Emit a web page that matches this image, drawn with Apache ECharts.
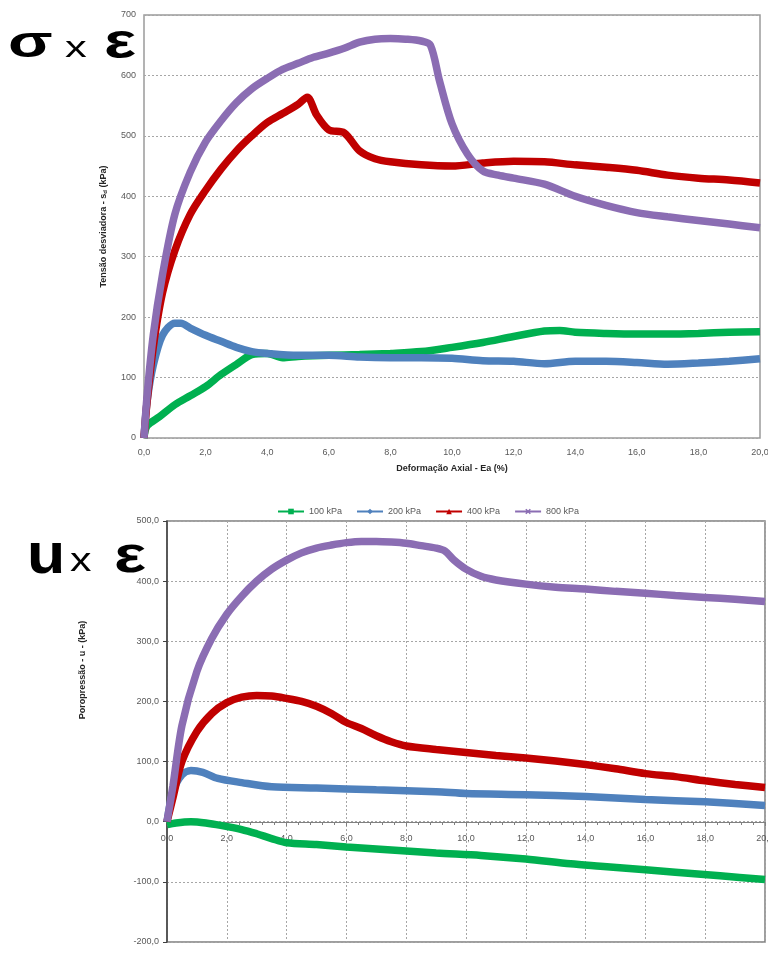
<!DOCTYPE html>
<html><head><meta charset="utf-8">
<script src="https://cdn.jsdelivr.net/npm/echarts@6/dist/echarts.min.js"></script>
<style>html,body{margin:0;padding:0;background:#fff}#c{width:768px;height:953px}</style>
</head><body><div id="c"></div>
<script>
// ---- data: top chart (deviator stress vs axial strain) ----
const seriesNames = ['100 kPa', '200 kPa', '400 kPa', '800 kPa'];

const epsS100 = [0,0.1,0.5,1.0,1.5,2.0,2.5,3.0,3.5,4.0,4.5,5,6,7,8,9,10,11,12,13,13.5,14,15,16,17,18,19,20];
const sig100  = [0,20,35,55,70,85,105,122,138,140,133,135,137,138,140,143,150,158,168,177,178,175,173,172,172,173,175,176];

const epsS200 = [0,0.1,0.3,0.6,1.0,1.2,1.5,2,2.5,3,3.5,4,5,6,7,8,9,10,11,12,13,14,15,16,17,18,19,20];
const sig200  = [0,60,120,170,190,190,182,170,160,150,143,140,137,137,134,133,133,132,128,127,123,127,127,125,122,124,127,131];

const epsS400 = [0,0.1,0.3,0.6,1.0,1.5,2,2.5,3,3.5,4,4.5,5,5.3,5.6,6,6.5,7,7.5,8,9,10,11,12,13,14,15,16,17,18,19,20];
const sig400  = [0,60,150,240,310,370,410,445,475,500,522,537,552,564,535,510,505,475,462,457,452,450,455,458,457,452,448,443,435,430,427,422];

const epsS800 = [0,0.1,0.3,0.6,1.0,1.5,2,2.5,3,3.5,4,4.5,5,5.5,6,6.5,7,7.5,8,8.5,9,9.3,9.6,10,10.5,11,11.5,12,13,14,15,16,17,18,19,20];
const sig800  = [0,70,170,270,370,440,490,525,555,578,595,610,620,630,637,645,655,660,661,660,657,650,590,520,470,442,435,430,420,400,385,373,366,360,354,348];

// ---- data: bottom chart (pore pressure vs axial strain) ----
const epsU100 = [0,0.3,0.8,1.3,1.8,2.5,3,3.5,4,5,6,7.5,9,10.5,12,13.5,14.5,16,17,18.5,20];
const u100    = [-5,-2,0,-2,-6,-13,-20,-28,-35,-38,-42,-47,-52,-56,-62,-70,-74,-80,-84,-90,-96];

const epsU200 = [0,0.2,0.5,0.8,1.2,1.7,2.5,3.5,5,7,9,10,12,14,16,18,20];
const u200    = [0,50,78,85,82,72,65,58,56,53,50,47,45,42,37,33,27];

const epsU400 = [0,0.2,0.5,1,1.5,2,2.5,3,3.5,4,4.5,5,5.5,6,6.5,7,7.5,8,9,10,11,12,13,14,15,16,17,18,19,20];
const u400    = [0,40,100,150,180,198,207,210,209,205,200,192,180,165,155,143,133,126,120,115,110,106,101,95,88,80,75,68,62,57];

const epsU800 = [0,0.2,0.5,1,1.5,2,2.5,3,3.5,4,4.5,5,5.5,6,6.5,7,7.5,8,8.5,9,9.3,9.6,10,10.5,11,12,13,14,15,16,17,18,19,20];
const u800    = [0,60,160,250,305,345,375,400,420,435,447,455,460,464,466,466,465,463,459,455,450,435,420,408,402,395,390,387,383,380,376,373,370,366];

const colors = ['#00B050', '#4F81BD', '#C00000', '#8B6DB3'];
const symbols = ['rect', 'diamond', 'triangle', 'path://M0,2L2,0L5,3L8,0L10,2L7,5L10,8L8,10L5,7L2,10L0,8L3,5Z'];

const zip = (a, b) => a.map((v, i) => [v, b[i]]);
const topData = [zip(epsS100, sig100), zip(epsS200, sig200), zip(epsS400, sig400), zip(epsS800, sig800)];
const botData = [zip(epsU100, u100), zip(epsU200, u200), zip(epsU400, u400), zip(epsU800, u800)];

const comma1 = v => v.toFixed(1).replace('.', ',');
const FF = 'Liberation Sans, Arial';
const lblStyle = { color: '#595959', fontSize: 9, fontFamily: FF };

function mk(idx, gi, data) {
  return {
    name: seriesNames[idx], type: 'line', xAxisIndex: gi, yAxisIndex: gi,
    data: data, smooth: 0.3, symbol: symbols[idx], symbolSize: 6, showSymbol: false,
    lineStyle: { color: colors[idx], width: 7.5 }, itemStyle: { color: colors[idx] },
    emphasis: { disabled: true }, animation: false, z: 3 + idx
  };
}
function glyph(t, x, y, size, bold, sx) {
  return { type: 'text', x: x, y: y, scaleX: sx, z: 100,
    style: { text: t, fontSize: size, fontWeight: bold ? 'bold' : 'normal', fontFamily: FF,
      fill: '#000', align: 'left', verticalAlign: 'middle' } };
}

const chart = echarts.init(document.getElementById('c'));
chart.setOption({
  backgroundColor: '#fff',
  animation: false,
  legend: {
    top: 502, left: 272, itemGap: 14, itemWidth: 26, itemHeight: 7,
    textStyle: { fontSize: 9, color: '#595959', fontFamily: FF },
    data: seriesNames
  },
  grid: [
    { left: 144, right: 8, top: 15, height: 423, show: true, borderColor: '#9a9a9a', borderWidth: 1.5,
      backgroundColor: 'transparent', containLabel: false, outerBoundsMode: 'none' },
    { left: 167, right: 3, top: 521, height: 421, show: true, borderColor: '#7f7f7f', borderWidth: 1.5,
      backgroundColor: 'transparent', containLabel: false, outerBoundsMode: 'none' }
  ],
  xAxis: [
    { type: 'value', gridIndex: 0, min: 0, max: 20, interval: 2,
      name: 'Deformação Axial - Ea (%)', nameLocation: 'middle', nameGap: 26,
      nameTextStyle: { fontSize: 9, fontWeight: 'bold', color: '#262626', fontFamily: FF },
      axisLine: { show: false }, axisTick: { show: false },
      axisLabel: Object.assign({ margin: 10, formatter: v => comma1(v) }, lblStyle),
      splitLine: { show: false } },
    { type: 'value', gridIndex: 1, min: 0, max: 20, interval: 2, position: 'bottom', offset: -120,
      axisLine: { onZero: false, lineStyle: { color: '#808080', width: 1 } },
      axisTick: { show: true, length: 4, lineStyle: { color: '#808080' } },
      minorTick: { show: true, splitNumber: 5, length: 3, lineStyle: { color: '#808080' } },
      axisLabel: Object.assign({ margin: 12, formatter: v => comma1(v) }, lblStyle),
      splitLine: { show: true, lineStyle: { type: [2, 2], color: '#a6a6a6', width: 1 } } }
  ],
  yAxis: [
    { type: 'value', gridIndex: 0, min: 0, max: 700, interval: 100,
      name: 'Tensão desviadora - s{s|d} (kPa)', nameLocation: 'middle', nameGap: 36,
      nameTextStyle: { fontSize: 9, fontWeight: 'bold', color: '#262626', fontFamily: FF,
        rich: { s: { fontSize: 6, fontWeight: 'bold', verticalAlign: 'bottom', color: '#262626' } } },
      axisLine: { show: false }, axisTick: { show: false },
      axisLabel: Object.assign({ margin: 8 }, lblStyle),
      splitLine: { show: true, lineStyle: { type: [2, 2], color: '#a6a6a6', width: 1 } } },
    { type: 'value', gridIndex: 1, min: -200, max: 500, interval: 100,
      axisLine: { show: true, lineStyle: { color: '#404040', width: 1.5 } },
      axisTick: { show: true, length: 4, lineStyle: { color: '#404040' } },
      axisLabel: Object.assign({ margin: 8, formatter: v => comma1(v) }, lblStyle),
      splitLine: { show: true, lineStyle: { type: [2, 2], color: '#a6a6a6', width: 1 } } }
  ],
  graphic: [
    { type: 'text', x: 83, y: 670, rotation: Math.PI / 2,
      style: { text: 'Poropressão - u - (kPa)', fontSize: 9, fontWeight: 'bold', fill: '#262626',
        fontFamily: FF, align: 'center', verticalAlign: 'middle' } },
    glyph('σ', 8, 45, 45, true, 1.45),
    glyph('x', 65, 49, 30, false, 1.45),
    glyph('ε', 104, 44, 50, true, 1.35),
    glyph('u', 27, 557, 58, true, 1.08),
    glyph('x', 70, 562, 33, false, 1.3),
    glyph('ε', 114, 558, 52, true, 1.3)
  ],
  series: [
    mk(0, 0, topData[0]), mk(1, 0, topData[1]), mk(2, 0, topData[2]), mk(3, 0, topData[3]),
    mk(0, 1, botData[0]), mk(1, 1, botData[1]), mk(2, 1, botData[2]), mk(3, 1, botData[3])
  ]
});
</script></body></html>
